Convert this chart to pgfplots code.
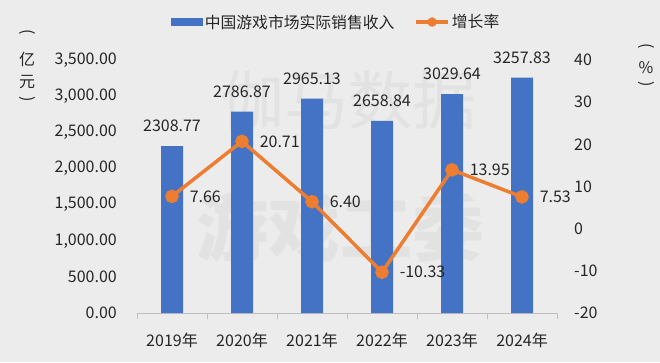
\documentclass[border=0pt]{standalone}
\usepackage{pgfplots}
\pgfplotsset{compat=1.18}
\usepackage{pgfplotstable}
\usepackage{graphicx}
\usepackage{fontspec}
\setmainfont{Noto Sans CJK SC}
\definecolor{barblue}{HTML}{4472C4}
\definecolor{lineor}{HTML}{ED7D31}
\definecolor{bg}{HTML}{ECECEC}
\definecolor{wm}{HTML}{E2E2E2}
\definecolor{axgray}{HTML}{BFBFBF}
\definecolor{txt}{HTML}{262626}

\pgfplotstableread{
x y label
0 2308.77 2308.77
1 2786.87 2786.87
2 2965.13 2965.13
3 2658.84 2658.84
4 3029.64 3029.64
5 3257.83 3257.83
}\bartable

\pgfplotstableread{
x y label
0 7.66 7.66
1 20.71 20.71
2 6.40 6.40
3 -10.33 -10.33
4 13.95 13.95
5 7.53 7.53
}\ratetable

\begin{document}
\begin{tikzpicture}[x=1bp,y=1bp,font=\fontsize{16bp}{19bp}\selectfont]
\fill[bg] (0,0) rectangle (660,362);
\useasboundingbox (0,0) rectangle (660,362);
\node[text=wm,font=\fontsize{64bp}{70bp}\selectfont] at (348,262) {伽马数据};
\node[text=wm,font=\fontsize{72bp}{78bp}\selectfont\bfseries] at (340,134) {游戏工委};

\begin{axis}[
  at={(137bp,49bp)}, anchor=south west,
  scale only axis, width=420bp, height=253bp,
  xmin=-0.5, xmax=5.5, ymin=0, ymax=3500,
  axis x line*=bottom, axis y line*=left,
  x axis line style={axgray, line width=0.8bp},
  y axis line style={draw=none},
  xtick={0,...,5},
  xticklabels={2019年,2020年,2021年,2022年,2023年,2024年},
  minor xtick={-0.5,0.5,1.5,2.5,3.5,4.5,5.5},
  major tick length=0pt, minor tick length=6bp,
  tick align=outside,
  every tick/.style={axgray, line width=0.8bp},
  ytick={0,500,...,3500},
  ytick style={draw=none},
  /pgf/number format/assume math mode=true,
  yticklabel style={anchor=east, inner sep=0pt, xshift=-20bp,
    /pgf/number format/fixed, /pgf/number format/fixed zerofill,
    /pgf/number format/precision=2, /pgf/number format/1000 sep={,}},
  xticklabel style={anchor=center, inner sep=0pt, yshift=-27bp},
  tick label style={text=txt, font=\fontsize{16bp}{19bp}\selectfont},
  legend style={at={(axis description cs:0.474,1.15)}, anchor=center,
    draw=none, fill=none, legend columns=2, text=txt,
    font=\fontsize{15.8bp}{19bp}\selectfont,
    /tikz/every even column/.append style={column sep=18bp},
    nodes={inner sep=2bp}},
]
\addplot[ybar, bar width=22bp, fill=barblue, draw=none,
  legend image code/.code={\fill[barblue] (0bp,-4bp) rectangle (32bp,4bp);},
  nodes near coords, point meta=explicit symbolic,
  every node near coord/.append style={anchor=south, inner sep=0pt, yshift=14bp, text=txt, font=\fontsize{16bp}{19bp}\selectfont}]
  table[x=x,y=y,meta=label]{\bartable};
\addlegendentry{中国游戏市场实际销售收入}
\addlegendimage{legend image code/.code={\draw[lineor,line width=3.5bp] (0bp,0bp)--(32bp,0bp); \fill[lineor] (16bp,0bp) circle (4.5bp);}}
\addlegendentry{增长率}
\end{axis}

\begin{axis}[
  at={(137bp,49bp)}, anchor=south west,
  scale only axis, width=420bp, height=253bp,
  xmin=-0.5, xmax=5.5, ymin=-20, ymax=40,
  axis x line=none, axis y line*=right,
  y axis line style={draw=none},
  ytick={-20,-10,...,40},
  ytick style={draw=none},
  /pgf/number format/assume math mode=true,
  yticklabel style={anchor=west, inner sep=0pt, xshift=17bp},
  tick label style={text=txt, font=\fontsize{16bp}{19bp}\selectfont},
]
\addplot[lineor, line width=3.5bp, mark=*, mark size=5bp,
  mark options={solid, fill=lineor, draw=lineor},
  nodes near coords, point meta=explicit symbolic,
  every node near coord/.append style={anchor=west, inner sep=0pt, xshift=16bp, text=txt, font=\fontsize{16bp}{19bp}\selectfont}]
  table[x=x,y=y,meta=label]{\ratetable};
\end{axis}

\begin{scope}[every node/.style={text=txt, inner sep=0pt, font=\fontsize{16bp}{19bp}\selectfont}]
\node at (27,330) {\rotatebox{-90}{(}};
\node at (27,303) {亿};
\node at (27,280) {元};
\node at (27,263) {\rotatebox{-90}{)}};
\node at (646,316) {\rotatebox{-90}{(}};
\node at (646,294) {\%};
\node at (646,278) {\rotatebox{-90}{)}};
\end{scope}
\end{tikzpicture}
\end{document}
